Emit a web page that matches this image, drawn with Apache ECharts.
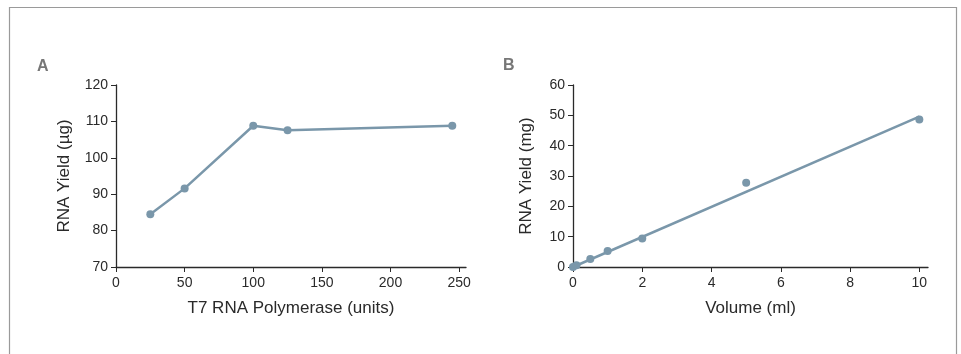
<!DOCTYPE html>
<html>
<head>
<meta charset="utf-8">
<script src="https://cdn.jsdelivr.net/npm/echarts@6/dist/echarts.min.js"></script>
<style>
  html, body { margin: 0; padding: 0; background: #fff; }
  #chart { width: 961px; height: 354px; }
</style>
</head>
<body>
<div id="chart"></div>
<script>
// panel A: polymerase titration
var unitsA = [25, 50, 100, 125, 245];
var yieldA = [84.5, 91.6, 108.8, 107.6, 108.8];
var ticksXA = [0, 50, 100, 150, 200, 250];

// panel B: scale-up volume
var volumeB = [0, 0.1, 0.5, 1, 2, 5, 10];
var yieldB = [0, 0.6, 2.6, 5.3, 9.4, 27.8, 48.6];
var fitX = [0, 10];
var fitY = [0, 49.6];
var ticksXB = [0, 2, 4, 6, 8, 10];

var lineColor = '#7a97aa';
var axisColor = '#2a2a2a';
var font = 'Liberation Sans, Arial, sans-serif';

function pairs(xs, ys) {
  var out = [];
  for (var i = 0; i < xs.length; i++) out.push([xs[i], ys[i]]);
  return out;
}

function xAxisOpt(max, ticks, name, grid) {
  return {
    type: 'value', gridIndex: grid, min: 0, max: max,
    name: name, nameLocation: 'middle', nameGap: 33,
    nameTextStyle: { color: axisColor, fontSize: 17, fontFamily: font },
    axisLine: { show: true, onZero: false, lineStyle: { color: axisColor, width: 1.3 } },
    axisTick: { show: true, length: 5, customValues: ticks, lineStyle: { color: axisColor } },
    axisLabel: { customValues: ticks, color: axisColor, fontSize: 14, fontFamily: font, margin: 9 },
    splitLine: { show: false }
  };
}

function yAxisOpt(min, max, interval, name, gap, grid) {
  return {
    type: 'value', gridIndex: grid, min: min, max: max, interval: interval,
    name: name, nameLocation: 'middle', nameGap: gap,
    nameTextStyle: { color: axisColor, fontSize: 17, fontFamily: font },
    axisLine: { show: true, onZero: false, lineStyle: { color: axisColor, width: 1.3 } },
    axisTick: { show: true, length: 5, lineStyle: { color: axisColor } },
    axisLabel: { color: axisColor, fontSize: 14, fontFamily: font, margin: 8 },
    splitLine: { show: false }
  };
}

var myChart = echarts.init(document.getElementById('chart'), null, { renderer: 'canvas' });
var option = {
  backgroundColor: '#fff',
  animation: false,
  graphic: [
    { type: 'rect', shape: { x: 9.5, y: 7.5, width: 947, height: 400 },
      style: { fill: 'none', stroke: '#9a9a9a', lineWidth: 1.2 } },
    { type: 'text', left: 37, top: 59,
      style: { text: 'A', fill: '#777', font: 'bold 16px ' + font } },
    { type: 'text', left: 503, top: 58,
      style: { text: 'B', fill: '#777', font: 'bold 16px ' + font } }
  ],
  grid: [
    { left: 116, top: 85, width: 350, height: 182 },
    { left: 573, top: 85, width: 355, height: 182 }
  ],
  xAxis: [
    xAxisOpt(255, ticksXA, 'T7 RNA Polymerase (units)', 0),
    xAxisOpt(10.25, ticksXB, 'Volume (ml)', 1)
  ],
  yAxis: [
    yAxisOpt(70, 120, 10, 'RNA Yield (µg)', 43, 0),
    yAxisOpt(0, 60, 10, 'RNA Yield (mg)', 38, 1)
  ],
  series: [
    {
      type: 'line', xAxisIndex: 0, yAxisIndex: 0,
      data: pairs(unitsA, yieldA),
      symbol: 'circle', symbolSize: 8,
      lineStyle: { color: lineColor, width: 2.5 },
      itemStyle: { color: lineColor }
    },
    {
      type: 'line', xAxisIndex: 1, yAxisIndex: 1,
      data: pairs(fitX, fitY),
      showSymbol: false, symbol: 'none',
      lineStyle: { color: lineColor, width: 2.5 }
    },
    {
      type: 'scatter', xAxisIndex: 1, yAxisIndex: 1,
      data: pairs(volumeB, yieldB),
      symbol: 'circle', symbolSize: 8,
      itemStyle: { color: lineColor, opacity: 1 }
    }
  ]
};
myChart.setOption(option);
</script>
</body>
</html>
